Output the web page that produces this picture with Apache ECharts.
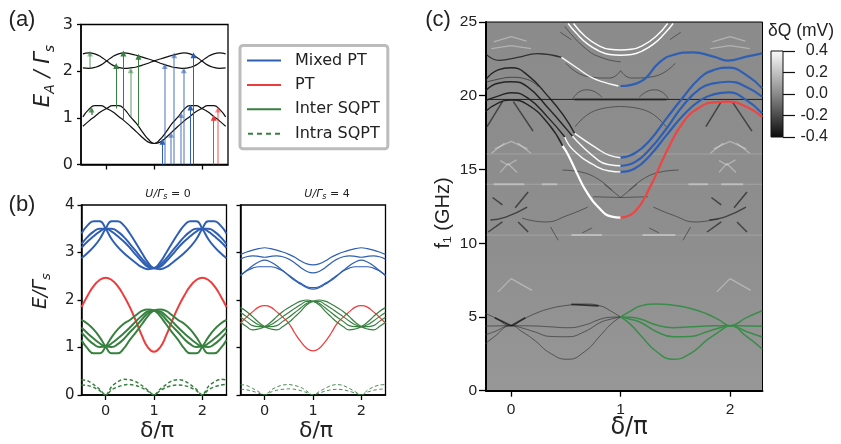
<!DOCTYPE html>
<html><head><meta charset="utf-8">
<style>html,body{margin:0;padding:0;background:#fff}#c{width:841px;height:444px}</style>
<script src="https://cdn.jsdelivr.net/npm/echarts@6/dist/echarts.min.js"></script></head>
<body><div id="c"></div>
<script>
// ---------- curves are read on 0..1 in steps of 1/8 (period 2; each curve pairs with its reflection)
const xFine=[-0.5,-0.375,-0.25,-0.125,0,0.125,0.25,0.375,0.5,0.625,0.75,0.875,1,1.125,1.25,1.375,1.5,1.625,1.75,1.875,2,2.125,2.25,2.375,2.5];
// ---------- panel (a)
const aUpperA=[2.22,2.31,2.37,2.39,2.37,2.34,2.30,2.26,2.22];
const aUpperB=[2.22,2.13,2.08,2.06,2.07,2.09,2.13,2.17,2.22];
const aLowerA=[1.20,1.26,1.26,1.18,1.02,0.88,0.70,0.54,0.45];
const aLowerB=[1.20,1.13,1.03,0.93,0.82,0.70,0.58,0.48,0.45];
const arrowsGreen=[[-0.35,2.06,2.38,0.5],[-0.32,1.06,1.18,0.8],[0.2,1.2,2.11,1],[0.35,0.95,2.38,1],[0.505,1.02,2.02,0.5],[0.667,0.82,2.31,1]];
const arrowsBlue=[[1.17,0,0.49,1],[1.22,0,2.11,0.55],[1.355,0,0.64,0.55],[1.42,0,2.34,0.55],[1.565,0,1.06,0.55],[1.62,0,2.02,0.55],[1.76,0,1.22,1],[1.825,0,2.34,1]];
const arrowsRed=[[2.25,0,1.0,1],[2.34,0,1.18,0.55]];
// ---------- panel (b) left, U=0
const b0BlueA=[3.50,3.66,3.66,3.57,3.40,3.20,2.99,2.79,2.67];
const b0BlueB=[3.50,3.28,3.12,2.99,2.88,2.78,2.69,2.65,2.67];
const b0BlueC=[3.50,3.50,3.44,3.33,3.18,3.03,2.87,2.74,2.67];
const b0BlueD=[3.50,3.44,3.34,3.23,3.10,2.95,2.81,2.70,2.67];
const b0Red=[2.47,2.42,2.29,2.09,1.85,1.56,1.25,1.00,0.91];
const b0GreenA=[1.02,1.22,1.38,1.50,1.58,1.68,1.77,1.80,1.78];
const b0GreenB=[1.02,0.88,0.88,0.98,1.16,1.32,1.49,1.66,1.78];
const b0GreenC=[1.02,1.09,1.19,1.30,1.42,1.55,1.67,1.76,1.78];
const b0GreenD=[1.02,1.01,1.07,1.18,1.32,1.45,1.59,1.72,1.78];
const b0DashA=[0,0.18,0.28,0.33,0.32,0.28,0.20,0.10,0];
const b0DashB=[0,0.12,0.22,0.30,0.32,0.30,0.22,0.12,0];
const b0DashC=[0,0.11,0.17,0.21,0.22,0.20,0.15,0.08,0];
const b0DashD=[0,0.09,0.16,0.20,0.21,0.20,0.16,0.09,0];
// ---------- panel (b) right, U=4
const b4Blue1=[3.10,3.08,3.05,3.01,2.96,2.90,2.82,2.76,2.74];
const b4Blue2=[2.90,2.92,2.93,2.91,2.86,2.78,2.68,2.60,2.57];
const b4Blue3=[2.84,2.80,2.72,2.62,2.51,2.41,2.33,2.26,2.23];
const b4Blue4=[2.70,2.70,2.67,2.61,2.52,2.43,2.35,2.28,2.26];
const b4Red=[1.88,1.85,1.75,1.64,1.51,1.30,1.12,0.98,0.93];
const b4GreenA=[1.44,1.53,1.65,1.76,1.84,1.915,1.975,2.00,1.97];
const b4GreenB=[1.44,1.39,1.37,1.44,1.53,1.645,1.765,1.90,1.97];
const b4GreenC=[1.44,1.48,1.56,1.65,1.735,1.825,1.905,1.97,1.97];
const b4GreenD=[1.44,1.44,1.46,1.55,1.635,1.735,1.835,1.93,1.97];
const b4DashA=[0,0.10,0.17,0.21,0.22,0.20,0.16,0.08,0];
const b4DashB=[0,0.07,0.14,0.20,0.22,0.20,0.14,0.07,0];
const b4DashC=[0,0.06,0.10,0.12,0.13,0.12,0.09,0.05,0];
const b4DashD=[0,0.04,0.08,0.11,0.12,0.11,0.08,0.04,0];
// ---------- panel (c): fitted overlays
const fitX=[1,1.13,1.27,1.42,1.575,1.73,1.85,1.985,2.15,2.295];
const fitBlue2=[15.8,16.1,17.0,18.46,19.93,21.24,21.74,21.9,21.4,20.5];
const fitBlue3=[15.25,15.5,16.4,17.78,19.37,20.5,20.84,20.95,20.6,19.93];
const fitBlue4=[14.84,15.07,15.97,17.33,18.7,19.7,20.09,20.23,19.7,18.8];
const fitRed=[11.74,12.13,13.82,16.2,18.23,19.25,19.55,19.6,19.25,18.57];
const fitTopX=[1,1.18,1.36,1.48,1.66,1.85,1.98,2.15,2.295];
const fitBlue1=[20.66,20.95,22.3,22.76,22.94,22.65,22.38,22.65,22.87];
const fitGreenX=[1,1.09,1.18,1.33,1.484,1.64,1.79,1.9,2,2.154,2.295];
const fitGreen1=[5.0,5.4,5.74,5.88,5.79,5.58,5.2,4.8,4.41,4.97,5.42];
const fitGreen2=[5.0,4.98,4.86,4.45,4.27,4.33,4.39,4.4,4.41,4.39,4.37];
const fitGreen3=[5.0,4.85,4.64,4.0,3.66,3.68,4.0,4.25,4.41,4.0,3.64];
const fitGreen4=[5.0,4.5,3.78,2.64,2.13,2.53,3.44,4.0,4.41,3.66,2.83];
// ---------- panel (c): measured spectrum features, [x,f] pairs
const darkTop=[[-0.23,22.82],[-0.11,22.4],[0.06,22.6],[0.24,22.85],[0.46,22.6]];
const darkBand1=[[-0.24,21.0],[-0.12,21.75],[0,21.9],[0.15,21.4],[0.34,19.94],[0.475,18.7],[0.58,17.45]];
const darkThin=[[-0.24,20.9],[-0.1,21.15],[0,21.25],[0.15,21.1],[0.25,20.6]];
const darkBand2=[[-0.24,20.3],[-0.12,20.85],[0,20.95],[0.15,20.6],[0.34,19.15],[0.51,17.7],[0.56,17.25]];
const darkBand3=[[-0.24,19.65],[-0.12,19.97],[0,20.2],[0.15,19.85],[0.34,18.5],[0.49,17.2]];
const darkBand4=[[-0.24,18.9],[-0.12,19.5],[0,19.7],[0.15,19.4],[0.34,18.1],[0.47,16.6]];
const whiteTop=[[0.46,22.6],[0.6,21.9],[0.72,21.3],[0.83,20.96],[0.98,20.66]];
const whiteBand1=[[0.58,17.45],[0.78,16.45],[0.9,15.95],[1,15.8]];
const whiteBand2=[[0.56,17.25],[0.8,15.6],[0.9,15.32],[1,15.25]];
const whiteBand3=[[0.49,17.2],[0.57,16.3],[0.78,15.2],[0.9,14.9],[1,14.84]];
const whiteRed=[[0.47,16.6],[0.52,16.0],[0.61,14.6],[0.68,13.6],[0.795,12.45],[0.92,11.8],[1,11.74]];
const whiteArc1=[[0.57,24.9],[0.68,24.0],[0.8,23.4],[0.9,23.15],[1,23.1],[1.1,23.15],[1.2,23.4],[1.32,24.0],[1.43,24.9]];
const whiteArc2=[[0.52,24.9],[0.6,24.2],[0.7,23.5],[0.8,23.05],[0.9,22.8],[1,22.75],[1.1,22.8],[1.2,23.05],[1.3,23.5],[1.4,24.2],[1.48,24.9]];
const darkArc3=[[0.49,24.7],[0.68,23.2],[0.84,22.55],[1,22.3]];
// features around delta=0, repeated around delta=2
const around0Dark=[
 [[-0.17,13.1],[-0.08,12.6]],[[0.155,13.47],[0.037,12.4]],[[-0.19,11.57],[-0.05,11.77],[0.146,12.45]],
 [[-0.21,10.76],[-0.08,11.44]],[[0.064,11.44],[0.155,10.76]],[[-0.22,17.9],[-0.08,19.6]],[[0.02,19.6],[0.2,17.6]]];
const around0White=[
 [[-0.1,14.8],[-0.03,15.4],[0.055,14.8]],[[-0.1,15.6],[-0.03,15.3],[0.05,15.65]],
 [[-0.16,23.65],[0,24],[0.14,23.7]],[[-0.18,23.2],[0,23.4],[0.18,23.2]],
 [[-0.15,16.4],[0,16.9],[0.15,16.4]],[[-0.18,16.1],[-0.06,16.8]],[[0.06,16.8],[0.18,16.1]],
 [[-0.12,6.7],[0,7.6],[0.19,6.8]]];
// features around delta=1, mirrored about it
const around1Dark=[
 [[0.1,11.7],[0.31,11.44],[0.52,11.9],[0.7,12.45]],[[0.36,11.1],[0.43,10.2]],[[0.65,10.7],[0.74,11.04]],
 [[0.47,14.96],[0.68,14.75],[0.92,13.6]],[[0.75,13.15],[1,13.1]],[[0.56,19.75],[0.62,20.25],[0.7,20.4],[0.83,19.9]],
 [[0.585,17.9],[0.77,19],[1,19.27]],[[0.45,24.3],[0.55,23.8]],[[0.5,22.2],[0.7,21.3],[0.9,21.2],[1,21.7]],[[0.85,14],[1,13.1]]];
const lineAt5Dark=[[[-0.15,4.95],[0,4.4]],[[0,4.4],[0.13,4.95]],[[0.55,5.85],[0.8,5.75]]];
const flatDark=[[-0.23,19.75],[2.295,19.75]];
const flatDarkCore=[[0.58,19.75],[1.42,19.75]];
const flatWhite=[[[-0.23,14],[2.295,14]],[[-0.23,10.55],[2.295,10.55]],[[-0.23,16.05],[2.295,16.05]]];
const flatWhiteBright=[[[-0.16,14],[0.12,14]],[[0.28,14],[0.42,14]],[[0.55,10.55],[0.83,10.55]],[[1.2,10.55],[1.5,10.55]],[[1.62,14],[1.8,14]],[[1.92,14],[2.12,14]]];
// ---------- tick labels and legend text
const xTicks=[0,1,2];
const legendNames=['Mixed PT','PT','Inter SQPT','Intra SQPT'];

const BLUE='#2f5fb3',RED='#ee3b3b',GREEN='#37803f';
const zip=(xs,ys)=>xs.map((x,i)=>[x,ys[i]]);
const mirror=p=>p.map(([x,y])=>[2-x,y]);
const shift=p=>p.map(([x,y])=>[x+2,y]);
// lay a curve f (0..1) and its partner g (0..1) over -0.5..2.5
function tile(f,g){
  const ys=[];
  for(let i=4;i>=1;i--) ys.push(g[i]);
  for(let i=0;i<=8;i++) ys.push(f[i]);
  for(let i=7;i>=0;i--) ys.push(g[i]);
  for(let i=1;i<=4;i++) ys.push(f[i]);
  return zip(xFine,ys);
}
const series=[];
function line(grid,data,color,width,o={}){
  series.push({type:'line',name:o.name,xAxisIndex:grid,yAxisIndex:grid,data,symbol:'none',smooth:o.smooth===undefined?0.5:o.smooth,silent:true,animation:false,z:o.z||2,
    lineStyle:{color,width,opacity:o.opacity===undefined?1:o.opacity,type:o.dash?[3.5,2.5]:'solid'},itemStyle:{color}});
}
// (a)
[[aUpperA,aUpperB],[aUpperB,aUpperA],[aLowerA,aLowerB],[aLowerB,aLowerA]].forEach(c=>line(0,tile(c[0],c[1]),'#111',1.2,{z:4}));
function arrows(list,color){
  series.push({type:'line',xAxisIndex:0,yAxisIndex:0,data:[],silent:true,animation:false,
   markLine:{silent:true,animation:false,symbol:['none','triangle'],symbolSize:[6,6],precision:4,label:{show:false},
    data:list.map(a=>[{coord:[a[0],a[1]],lineStyle:{color,type:'solid',opacity:a[3],width:a[3]<1?1.6:1},itemStyle:{color,opacity:a[3]<1?0.8:1}},{coord:[a[0],a[2]]}])}});
}
arrows(arrowsGreen,GREEN);arrows(arrowsBlue,BLUE);arrows(arrowsRed,RED);
// (b)
function bPanel(g,blues,red,greens,dashes,w){
  blues.forEach(c=>line(g,tile(c[0],c[1]),BLUE,w,{name:'Mixed PT'}));
  line(g,tile(red,red),RED,w,{name:'PT'});
  greens.forEach(c=>line(g,tile(c[0],c[1]),GREEN,w,{name:'Inter SQPT'}));
  dashes.forEach(c=>line(g,tile(c[0],c[1]),GREEN,w*0.75,{name:'Intra SQPT',dash:true,smooth:0.3}));
}
bPanel(1,[[b0BlueA,b0BlueB],[b0BlueB,b0BlueA],[b0BlueC,b0BlueD],[b0BlueD,b0BlueC]],b0Red,
  [[b0GreenA,b0GreenB],[b0GreenB,b0GreenA],[b0GreenC,b0GreenD],[b0GreenD,b0GreenC]],[[b0DashA,b0DashB],[b0DashC,b0DashD]],2);
bPanel(2,[[b4Blue1,b4Blue1],[b4Blue2,b4Blue2],[b4Blue3,b4Blue3],[b4Blue4,b4Blue4]],b4Red,
  [[b4GreenA,b4GreenB],[b4GreenB,b4GreenA],[b4GreenC,b4GreenD],[b4GreenD,b4GreenC]],[[b4DashA,b4DashB],[b4DashC,b4DashD]],1.2);
// (c) measured features
flatWhite.forEach(p=>line(3,p,'#fff',1,{opacity:0.2,smooth:false}));
flatWhiteBright.forEach(p=>line(3,p,'#fff',2,{opacity:0.35,smooth:false}));
around0White.forEach(p=>{line(3,p,'#eee',1.3,{opacity:0.4,smooth:false});line(3,shift(p),'#eee',1.3,{opacity:0.4,smooth:false});});
line(3,flatDark,'#151515',1,{smooth:false,opacity:0.9});
line(3,flatDarkCore,'#222',2,{smooth:false,opacity:0.7});
around0Dark.forEach(p=>{line(3,p,'#222',1.5,{opacity:0.7});line(3,shift(p),'#222',1.5,{opacity:0.7});});
around1Dark.forEach(p=>{line(3,p,'#222',1,{opacity:0.55});line(3,mirror(p),'#222',1,{opacity:0.55});});
[darkBand1,darkBand2,darkBand3,darkBand4].forEach(p=>line(3,p,'#1a1a1a',1.4,{opacity:0.9}));
line(3,darkThin,'#222',0.9,{opacity:0.7});
line(3,darkTop,'#1a1a1a',1.3,{opacity:0.8});
[whiteTop,whiteBand1,whiteBand2,whiteBand3].forEach(p=>line(3,p,'#fff',1.4,{opacity:0.95}));
line(3,whiteRed,'#fff',2.2);
line(3,whiteArc1,'#fff',1.4);line(3,whiteArc2,'#fff',1.4);
line(3,darkArc3,'#222',0.9,{opacity:0.6});
[fitGreen1,fitGreen2,fitGreen3,fitGreen4].forEach(c=>line(3,mirror(zip(fitGreenX,c)),'#333',0.9,{opacity:0.75}));
lineAt5Dark.forEach(p=>line(3,p,'#1a1a1a',1.8,{opacity:0.8}));
// (c) fits
line(3,zip(fitTopX,fitBlue1),BLUE,2.2,{z:5});
[fitBlue2,fitBlue3,fitBlue4].forEach(c=>line(3,zip(fitX,c),BLUE,2.2,{z:5}));
line(3,zip(fitX,fitRed),'#ee4444',2.2,{z:5});
[fitGreen1,fitGreen2,fitGreen3,fitGreen4].forEach(c=>line(3,zip(fitGreenX,c),'#3a8c4a',1.5,{z:5}));

const FS='"DejaVu Sans"',FA='"Liberation Sans"';
function axl(w){return {show:true,onZero:false,lineStyle:{color:'#000',width:w||1.5}};}
function xAx(grid,min,max,labels,o={}){
  return {type:'value',gridIndex:grid,min,max,splitLine:{show:false},axisLine:axl(o.line),
    axisTick:{show:true,customValues:xTicks,length:o.tick||5,lineStyle:{color:'#000',width:1.3},inside:false},
    axisLabel:{show:labels,customValues:xTicks,fontFamily:o.font||FS,fontSize:o.size||14.5,color:'#222',margin:o.margin||9}};
}
function yAx(grid,min,max,interval,labels,o={}){
  return {type:'value',gridIndex:grid,min,max,interval,splitLine:{show:false},axisLine:axl(o.line),
    axisTick:{show:true,length:o.tick||4,lineStyle:{color:'#000',width:1.3}},
    axisLabel:{show:labels,fontFamily:o.font||FS,fontSize:o.size||14.5,color:'#222',margin:o.margin||7}};
}
const frame={show:true,borderColor:'#000',borderWidth:1.3};
function txt(x,y,text,fs,font,o={}){
  return {type:'text',x,y,rotation:o.rot||0,silent:true,z:20,style:{text,fontSize:fs,fontFamily:font,fontStyle:o.style||'normal',fill:o.fill||'#222',textAlign:'center',textVerticalAlign:'middle',rich:o.rich}};
}
const richA={i:{fontSize:21,fontFamily:FS,fontStyle:'italic',fill:'#222',lineHeight:26},s:{fontSize:14,fontFamily:FS,fontStyle:'italic',fill:'#222',verticalAlign:'bottom',lineHeight:18}};
const richB={i:{fontSize:19,fontFamily:FS,fontStyle:'italic',fill:'#222',lineHeight:24},s:{fontSize:13,fontFamily:FS,fontStyle:'italic',fill:'#222',verticalAlign:'bottom',lineHeight:16}};
const richT={i:{fontSize:11,fontFamily:FS,fontStyle:'italic',fill:'#222',lineHeight:14},n:{fontSize:11,fontFamily:FS,fill:'#222',lineHeight:14},s:{fontSize:8,fontFamily:FS,fontStyle:'italic',fill:'#222',verticalAlign:'bottom',lineHeight:10}};
const legendIcons=['path://M0 0H34V2H0Z','path://M0 0H34V2H0Z','path://M0 0H34V2H0Z','path://M0 0H5V2H0Z M9 0H14V2H9Z M18 0H23V2H18Z M27 0H32V2H27Z'];

const option={
  animation:false,backgroundColor:'#fff',
  legend:{show:true,orient:'vertical',left:240,top:45.5,padding:[6,8,6,7],itemWidth:34,itemHeight:2,itemGap:6.4,
    borderColor:'#bcbcbc',borderWidth:3,borderRadius:3,backgroundColor:'#fff',selectedMode:false,
    textStyle:{fontFamily:FS,fontSize:16,color:'#222',padding:[0,0,0,9],lineHeight:18},
    data:legendNames.map((n,i)=>({name:n,icon:legendIcons[i]}))},
  grid:[
    Object.assign({left:81,top:24.5,width:147,height:140},frame),
    Object.assign({left:81.5,top:205,width:145,height:190},frame),
    Object.assign({left:240.5,top:205,width:145,height:190},frame),
    {show:true,borderColor:'#000',borderWidth:1,left:486,top:22,width:276.5,height:368.7,
     backgroundColor:{type:'linear',x:0,y:0,x2:0,y2:1,colorStops:[{offset:0,color:'#8b8b8b'},{offset:0.6,color:'#8e8e8e'},{offset:1,color:'#979797'}]}},
    {show:true,borderColor:'#111',borderWidth:1,left:771,top:51,width:12,height:86,
     backgroundColor:{type:'linear',x:0,y:0,x2:0,y2:1,colorStops:[{offset:0,color:'#fbfbfb'},{offset:0.5,color:'#8a8a8a'},{offset:1,color:'#0a0a0a'}]}}
  ],
  xAxis:[
    xAx(0,-0.54,2.55,false),
    xAx(1,-0.5,2.5,true),
    xAx(2,-0.5,2.5,true),
    xAx(3,-0.23,2.297,true,{font:FA,size:15.5,tick:6,margin:11,line:2}),
    {type:'value',gridIndex:4,min:0,max:1,show:false}
  ],
  yAxis:[
    yAx(0,0,3,1,true,{size:16,margin:8}),
    yAx(1,0,4,1,true,{size:15,margin:7}),
    yAx(2,0,4,1,false),
    yAx(3,0,25,5,true,{font:FA,size:15.5,tick:7,margin:9,line:2}),
    {type:'value',gridIndex:4,min:-0.4,max:0.4,interval:0.2,position:'right',splitLine:{show:false},
     axisLine:{show:false,onZero:false},axisTick:{show:true,length:12,lineStyle:{color:'#111',width:1.2}},
     axisLabel:{fontFamily:FA,fontSize:16,color:'#222',align:'right',margin:45,formatter:v=>v.toFixed(1)}}
  ],
  series,
  graphic:{elements:[
    txt(22,20,'(a)',22,FA),txt(22,205,'(b)',22,FA),txt(438,20,'(c)',22,FA),
    txt(44,76,'{i|E}{s|A}{i| / Γ}{s|s}',21,FS,{rot:Math.PI/2,rich:richA}),
    txt(41,291,'{i|E/Γ}{s|s}',19,FS,{rot:Math.PI/2,rich:richB}),
    txt(168,194,'{i|U/Γ}{s|s}{n| = 0}',11,FS,{rich:richT}),
    txt(327,194,'{i|U/Γ}{s|s}{n| = 4}',11,FS,{rich:richT}),
    txt(157,431,'δ/π',22,FS),txt(316,431,'δ/π',22,FS),txt(629,428,'δ/π',24,FS),
    txt(443,213,'f₁ (GHz)',20,FA,{rot:Math.PI/2}),
    txt(801,31,'δQ (mV)',17.5,FA)
  ]}
};
const chart=echarts.init(document.getElementById('c'),null,{renderer:'canvas'});
chart.setOption(option);
</script></body></html>
